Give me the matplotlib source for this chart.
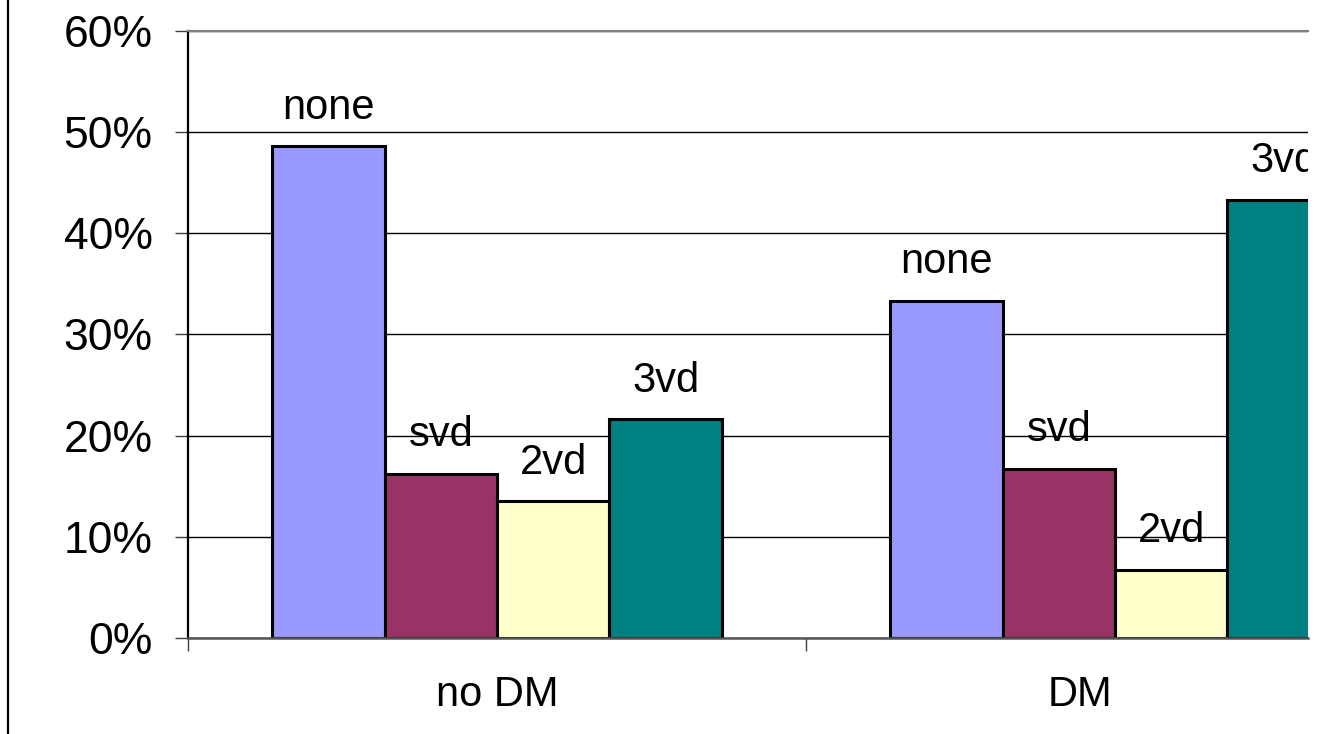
import matplotlib
matplotlib.use("Agg")
import matplotlib.pyplot as plt
from matplotlib.lines import Line2D
import numpy as np

# vessel disease share per group
groups = ["no DM", "DM"]
series = ["none", "svd", "2vd", "3vd"]
values = {
    "none": [48.6, 33.3],
    "svd": [16.2, 16.7],
    "2vd": [13.5, 6.7],
    "3vd": [21.6, 43.3],
}
colors = ["#9999FF", "#993366", "#FFFFCC", "#008080"]
yticks = [0, 10, 20, 30, 40, 50, 60]

plt.rcParams["font.family"] = ["Liberation Sans", "DejaVu Sans"]

fig = plt.figure(figsize=(13.31, 7.34), dpi=100)
W, H = 1331, 734
# plot area: left edge 188px, right cut at 1308px, 0% at 638px, 60% at 31px
ax = fig.add_axes([188 / W, (H - 638) / H, (1308 - 188) / W, (638 - 31) / H])

x = np.arange(len(groups))
bar_w = 1 / (len(series) + 1.5)
offsets = (np.arange(len(series)) - (len(series) - 1) / 2) * bar_w

for i, name in enumerate(series):
    bars = ax.bar(x + offsets[i], values[name], width=bar_w, color=colors[i],
                  edgecolor="black", linewidth=2.2, zorder=3)
    for b, v in zip(bars, values[name]):
        ax.annotate(name, (b.get_x() + b.get_width() / 2, v),
                    xytext=(0, 20), textcoords="offset points",
                    ha="center", va="baseline", fontsize=30,
                    annotation_clip=False, clip_on=True, zorder=4)

ax.set_ylim(0, 60)
ax.set_xlim(-0.5, -0.5 + (1308 - 188) / 618)
ax.set_yticks(yticks)
ax.set_yticklabels([f"{t}%" for t in yticks])
ax.yaxis.grid(True, color="black", linewidth=1.0, zorder=0)
ax.set_axisbelow(True)

# boundary ticks between categories, labels centred on the groups
ax.set_xticks([-0.5, 0.5])
ax.set_xticklabels([])
ax.set_xticks([0, 0.943], minor=True)
ax.set_xticklabels(groups, minor=True)
ax.tick_params(axis="x", which="major", length=9.5, width=1.0, color="#404040")
ax.tick_params(axis="x", which="minor", length=0, pad=27, labelsize=30)
ax.tick_params(axis="y", length=9.5, width=1.0, color="#404040", pad=16, labelsize=32)

ax.spines["right"].set_visible(False)
ax.spines["top"].set_color("#808080")
ax.spines["top"].set_linewidth(1.5)
ax.spines["left"].set_color("black")
ax.spines["left"].set_linewidth(1.6)
ax.spines["bottom"].set_color("#555555")
ax.spines["bottom"].set_linewidth(1.8)
ax.spines["bottom"].set_zorder(5)

# frame edge along the left side of the slide
fig.add_artist(Line2D([7.5 / W, 7.5 / W], [0, 1], color="black", linewidth=1.6))

fig.savefig("out.png", dpi=100)
